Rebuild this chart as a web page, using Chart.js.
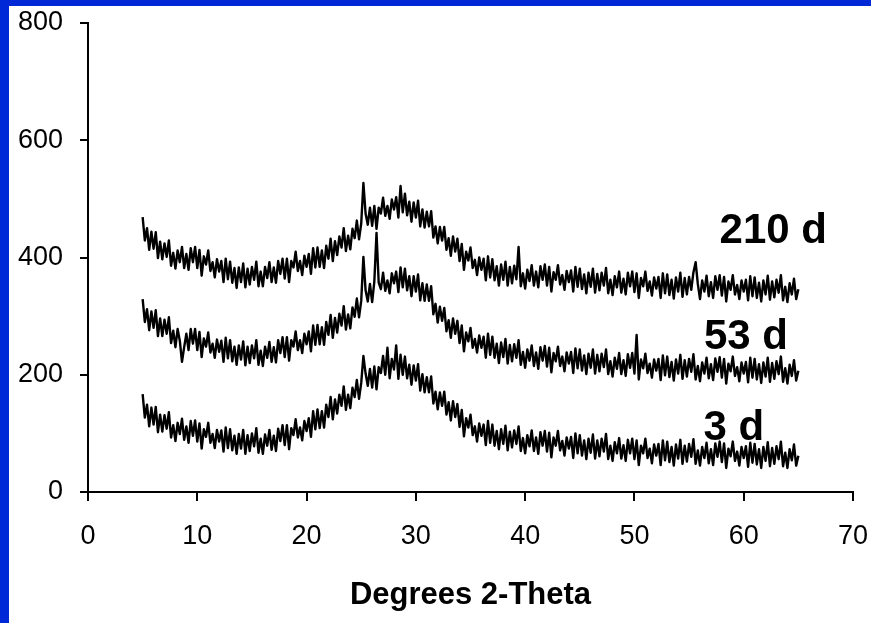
<!DOCTYPE html>
<html>
<head>
<meta charset="utf-8">
<title>XRD patterns</title>
<script src="https://cdn.jsdelivr.net/npm/chart.js@4.4.0/dist/chart.umd.min.js"></script>
<style>
    html, body { margin: 0; padding: 0; background: #fff; }
    #frame { position: relative; width: 871px; height: 623px; background: #fff; overflow: hidden; }
    #edgeLeft { position: absolute; left: 0; top: 0; width: 9px; height: 623px; background: #0028d7; }
    #edgeTop { position: absolute; left: 0; top: 0; width: 871px; height: 6px; background: #0028d7; }
    #xrdChart { position: absolute; left: 0; top: 0; }
</style>
</head>
<body>
<div id="frame">
    <canvas id="xrdChart" width="871" height="623"></canvas>
    <div id="edgeLeft"></div>
    <div id="edgeTop"></div>
</div>
<script>
// 2-theta scan: 5 to 65 degrees, one reading every 0.2 degree (five per degree)
const angleStart = 5;
const angleStep = 0.2;

const xTicks = [0, 10, 20, 30, 40, 50, 60, 70];
const yTicks = [0, 200, 400, 600, 800];

const seriesNames = ['210 d', '53 d', '3 d'];
// where each curve name sits, in axis units (degrees, counts)
const seriesLabelAngle = [62.7, 60.2, 59.1];
const seriesLabelLevel = [444, 264, 109];

const intensity210d = [
    469, 429, 450, 413, 444,   415, 443, 399, 427, 397,   424, 401, 429, 386, 408,
    381, 412, 392, 418, 382,   406, 379, 416, 392, 418,   382, 413, 369, 402, 388,
    412, 377, 392, 366, 397,   376, 394, 358, 398, 363,   393, 357, 382, 348, 383,
    358, 390, 349, 381, 354,   384, 362, 393, 351, 376,   351, 384, 365, 392, 358,
    383, 357, 394, 372, 398,   364, 398, 358, 394, 383,   410, 377, 394, 370, 403,
    384, 406, 372, 416, 383,   417, 384, 412, 382, 420,   398, 432, 394, 428, 404,
    436, 417, 450, 411, 437,   414, 449, 433, 463, 431,   458, 527, 475, 456, 485,
    454, 488, 449, 485, 475,   502, 471, 488, 466, 499,   482, 503, 468, 522, 477,
    509, 472, 495, 461, 494,   468, 497, 453, 482, 451,   478, 453, 479, 434, 453,
    424, 452, 429, 452, 413,   433, 403, 436, 410, 432,   394, 423, 379, 410, 395,
    417, 382, 396, 370, 400,   379, 398, 361, 402, 366,   397, 361, 385, 352, 388,
    362, 393, 352, 384, 356,   386, 363, 418, 351, 373,   347, 379, 360, 387, 352,
    376, 349, 385, 362, 388,   352, 384, 342, 375, 362,   387, 354, 370, 345, 377,
    358, 378, 342, 384, 350,   381, 346, 371, 339, 374,   350, 381, 340, 372, 344,
    374, 352, 382, 339, 362,   336, 368, 349, 376, 340,   364, 337, 374, 351, 376,
    341, 373, 331, 365, 351,   376, 343, 359, 335, 366,   347, 367, 331, 373, 339,
    371, 336, 362, 330, 366,   342, 374, 333, 365, 337,   367, 345, 375, 392, 355,
    329, 361, 342, 369, 334,   358, 331, 368, 345, 370,   335, 367, 325, 359, 345,
    370, 337, 353, 329, 361,   342, 362, 327, 368, 334,   366, 331, 357, 325, 361,
    337, 369, 328, 359, 332,   362, 340, 370, 327, 350,   324, 356, 337, 364, 329,
    346
];

const intensity53d = [
    329, 290, 312, 276, 308,   280, 310, 266, 296, 266,   294, 270, 298, 254, 275,
    247, 278, 258, 222, 247,   270, 242, 278, 253, 278,   242, 273, 230, 262, 248,
    272, 238, 253, 229, 260,   239, 258, 222, 263, 228,   259, 223, 248, 217, 250,
    226, 257, 216, 248, 220,   250, 228, 259, 217, 241,   215, 248, 229, 256, 222,
    247, 221, 259, 237, 264,   230, 264, 224, 259, 248,   274, 242, 259, 237, 270,
    252, 274, 240, 284, 251,   285, 252, 281, 251, 290,   268, 302, 263, 297, 272,
    304, 284, 317, 277, 303,   279, 315, 299, 330, 298,   326, 401, 344, 325, 355,
    324, 359, 442, 357, 346,   374, 343, 361, 339, 373,   356, 376, 341, 383, 349,
    381, 344, 368, 334, 368,   342, 371, 327, 356, 326,   354, 326, 351, 303, 321,
    289, 316, 292, 314, 274,   293, 263, 296, 270, 292,   254, 284, 240, 272, 257,
    280, 246, 261, 238, 267,   246, 265, 229, 270, 234,   265, 229, 253, 220, 255,
    230, 261, 219, 251, 223,   252, 229, 259, 217, 239,   212, 243, 224, 250, 215,
    238, 210, 247, 224, 249,   214, 246, 204, 237, 223,   248, 215, 231, 206, 238,
    219, 239, 203, 245, 211,   243, 207, 233, 201, 236,   212, 243, 202, 234, 206,
    236, 213, 243, 201, 223,   197, 229, 210, 237, 201,   225, 198, 235, 212, 237,
    202, 268, 192, 226, 211,   236, 203, 219, 195, 226,   207, 227, 191, 233, 199,
    231, 196, 222, 190, 226,   202, 234, 193, 225, 197,   227, 205, 235, 192, 215,
    189, 221, 202, 229, 194,   218, 191, 228, 205, 230,   195, 227, 185, 219, 206,
    231, 198, 213, 189, 221,   202, 222, 187, 229, 195,   227, 192, 218, 186, 221,
    197, 229, 188, 220, 193,   223, 201, 231, 188, 211,   185, 217, 198, 225, 190,
    207
];

const intensity3d = [
    167, 127, 149, 112, 144,   115, 145, 102, 132, 103,   131, 108, 136,  93, 114,
     87, 118,  99, 125,  89,   112,  84, 121,  96, 122,    86, 117,  74, 107,  94,
    118,  84,  99,  75, 106,    86, 105,  69, 110,  75,   107,  71,  96,  65,  99,
     74, 106,  65,  97,  70,   100,  78, 109,  67,  91,    65,  98,  79, 106,  72,
     96,  70, 108,  87, 114,    80, 114,  73, 109,  97,   124,  93, 110,  88, 121,
    104, 126,  94, 138, 107,   141, 109, 138, 110, 149,   128, 162, 124, 158, 134,
    166, 147, 180, 140, 166,   143, 178, 162, 191, 159,   186, 232, 202, 181, 210,
    178, 214, 175, 213, 203,   232, 200, 246, 194, 227,   209, 250, 193, 234, 200,
    231, 194, 217, 183, 216,   190, 218, 173, 201, 170,   196, 170, 197, 151, 171,
    141, 170, 147, 171, 132,   153, 122, 155, 128, 150,   111, 140,  95, 126, 110,
    132,  97, 112,  86, 117,    96, 115,  80, 121,  84,   115,  79, 104,  73, 107,
     82, 113,  71, 103,  76,   105,  82, 112,  70,  92,    66,  97,  78, 105,  70,
     93,  65, 102,  79, 104,    69, 101,  59,  93,  79,   104,  71,  87,  62,  93,
     74,  94,  58, 100,  66,    97,  62,  88,  56,  91,    67,  98,  57,  88,  61,
     91,  69,  99,  56,  79,    53,  85,  66,  92,  57,    80,  53,  89,  66,  91,
     56,  88,  46,  79,  66,    91,  58,  74,  49,  81,    62,  82,  46,  88,  54,
     86,  51,  77,  45,  81,    57,  89,  48,  79,  52,    82,  60,  90,  48,  71,
     45,  77,  58,  84,  49,    73,  46,  83,  60,  86,    51,  83,  41,  74,  61,
     86,  53,  69,  45,  77,    58,  78,  43,  84,  50,    82,  47,  73,  41,  77,
     53,  85,  44,  75,  48,    78,  56,  86,  44,  67,    41,  73,  54,  81,  45,
     62
];

const allSeries = [intensity210d, intensity53d, intensity3d];

function toPoints(values) {
    return values.map((v, i) => ({ x: angleStart + i * angleStep, y: v }));
}

const tickFont = { family: "'Liberation Sans', Arial, sans-serif", size: 27 };

function noEdgePadding(s) {
    s.paddingLeft = 0;
    s.paddingRight = 0;
    s.paddingTop = 0;
    s.paddingBottom = 0;
}

// writes "210 d", "53 d", "3 d" next to their curves
const curveNames = {
    id: 'curveNames',
    afterDatasetsDraw(chart) {
        const ctx = chart.ctx;
        const xs = chart.scales.x;
        const ys = chart.scales.y;
        ctx.save();
        ctx.fillStyle = '#000';
        ctx.font = "bold 42px 'Liberation Sans', Arial, sans-serif";
        ctx.textAlign = 'center';
        ctx.textBaseline = 'middle';
        seriesNames.forEach((name, i) => {
            ctx.fillText(name, xs.getPixelForValue(seriesLabelAngle[i]), ys.getPixelForValue(seriesLabelLevel[i]));
        });
        ctx.restore();
    }
};

const ctx = document.getElementById('xrdChart').getContext('2d');
new Chart(ctx, {
    type: 'line',
    data: {
        datasets: allSeries.map((values, i) => ({
            label: seriesNames[i],
            data: toPoints(values),
            borderColor: '#000',
            borderWidth: 2.4,
            borderJoinStyle: 'round',
            pointRadius: 0,
            tension: 0,
            fill: false
        }))
    },
    options: {
        responsive: false,
        animation: false,
        layout: { padding: { left: 0, right: 18, top: 23, bottom: 0 } },
        plugins: {
            legend: { display: false },
            tooltip: { enabled: false }
        },
        scales: {
            x: {
                type: 'linear',
                min: xTicks[0],
                max: xTicks[xTicks.length - 1],
                afterBuildTicks: s => { s.ticks = xTicks.map(v => ({ value: v })); },
                afterFit: s => { s.height = 131; noEdgePadding(s); },
                ticks: { color: '#000', font: tickFont, padding: 19, maxRotation: 0, autoSkip: false },
                grid: { drawOnChartArea: false, drawTicks: true, tickLength: 9, color: '#000', lineWidth: 2 },
                border: { display: true, color: '#000', width: 2 },
                title: {
                    display: true,
                    text: 'Degrees 2-Theta',
                    color: '#000',
                    font: { family: "'Liberation Sans', Arial, sans-serif", size: 31, weight: 'bold' },
                    padding: { top: 0, bottom: 9 }
                }
            },
            y: {
                min: yTicks[0],
                max: yTicks[yTicks.length - 1],
                afterBuildTicks: s => { s.ticks = yTicks.map(v => ({ value: v })); },
                afterFit: s => { s.width = 88; noEdgePadding(s); },
                ticks: { color: '#000', font: tickFont, padding: 17 },
                grid: { drawOnChartArea: false, drawTicks: true, tickLength: 8, color: '#000', lineWidth: 2 },
                border: { display: true, color: '#000', width: 2 }
            }
        }
    },
    plugins: [curveNames]
});
</script>
</body>
</html>
